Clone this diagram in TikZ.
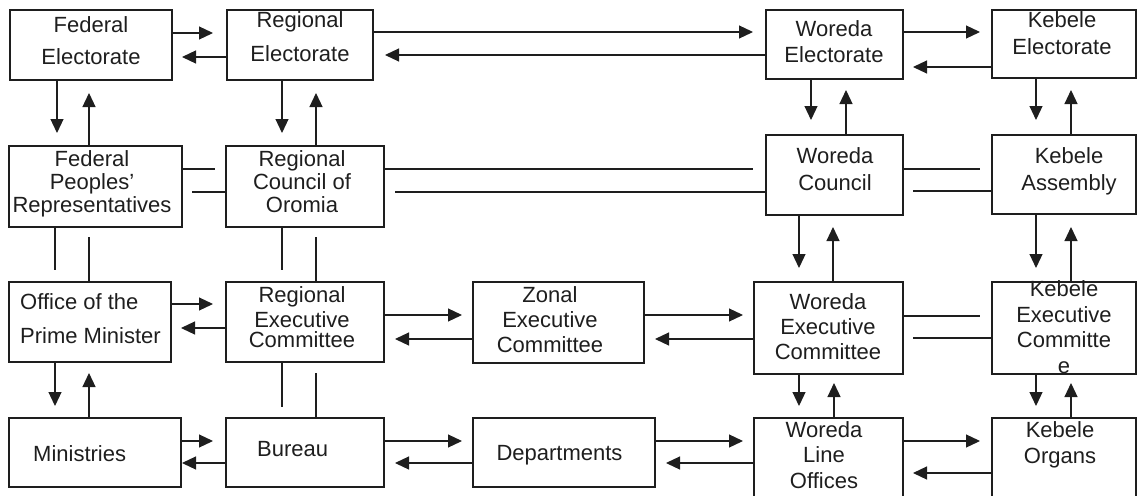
\documentclass[tikz,border=0pt]{standalone}
\usepackage{fontspec}
\setmainfont{Liberation Sans}
\usetikzlibrary{arrows.meta}
\definecolor{ink}{HTML}{1E1E1E}
\begin{document}
\begin{tikzpicture}[x=1pt, y=-1pt,
  box/.style={draw=ink, line width=1.3pt, inner sep=0pt, outer sep=0pt},
  arr/.style={draw=ink, line width=1.2pt, -{Triangle[length=14pt,width=13pt]}},
  link/.style={draw=ink, line width=1.2pt},
  lbl/.style={font=\fontsize{22}{#1}\selectfont, align=center, anchor=base,
              inner sep=0pt, text=ink},
  lbl/.default=25]
\path[use as bounding box, clip] (0,0) rectangle (1137,495);

% ---------- boxes ----------
% federal / regional / woreda / kebele electorates
\node[box, minimum width=162pt, minimum height=70pt] (fe)  at (91,45) {};
\node[box, minimum width=146pt, minimum height=70pt] (re)  at (300,45) {};
\node[box, minimum width=137pt, minimum height=69pt] (we)  at (834.5,44.5) {};
\node[box, minimum width=144pt, minimum height=68pt] (ke)  at (1064,44) {};
% councils
\node[box, minimum width=173pt, minimum height=81pt] (fpr) at (95.5,186.5) {};
\node[box, minimum width=158pt, minimum height=81pt] (rco) at (305,186.5) {};
\node[box, minimum width=137pt, minimum height=80pt] (wc)  at (834.5,175) {};
\node[box, minimum width=144pt, minimum height=79pt] (ka)  at (1064,174.5) {};
% executives
\node[box, minimum width=162pt, minimum height=80pt] (opm) at (90,322) {};
\node[box, minimum width=158pt, minimum height=80pt] (rec) at (305,322) {};
\node[box, minimum width=171pt, minimum height=81pt] (zec) at (558.5,322.5) {};
\node[box, minimum width=149pt, minimum height=92pt] (wec) at (828.5,328) {};
\node[box, minimum width=144pt, minimum height=92pt] (kec) at (1064,328) {};
% line organisations
\node[box, minimum width=172pt, minimum height=69pt] (min) at (95,452.5) {};
\node[box, minimum width=158pt, minimum height=69pt] (bur) at (305,452.5) {};
\node[box, minimum width=182pt, minimum height=69pt] (dep) at (564,452.5) {};
\node[box, minimum width=149pt, minimum height=90pt] (wlo) at (828.5,463) {};
\node[box, minimum width=144pt, minimum height=90pt] (ko)  at (1064,463) {};

% ---------- labels (placed by the baseline of their last line) ----------
\node[lbl=32] (fe-t)  at (91,64)    {Federal\\Electorate};
\node[lbl=34] (re-t)  at (300,62)   {Regional\\Electorate};
\node[lbl=26] (we-t)  at (834,63)   {Woreda\\Electorate};
\node[lbl=27] (ke-t)  at (1062,55)  {Kebele\\Electorate};
\node[lbl=23] (fpr-t) at (92,212)   {Federal\\Peoples'\\Representatives};
\node[lbl=23] (rco-t) at (302,212)  {Regional\\Council of\\Oromia};
\node[lbl=27] (wc-t)  at (835,190)  {Woreda\\Council};
\node[lbl=27] (ka-t)  at (1069,190) {Kebele\\Assembly};
\node[lbl=34, align=left, anchor=base west] (opm-t) at (20,343) {Office of the\\Prime Minister};
\node[lbl=25] (rec-t) at (302,347)  {Regional\\Executive\\[-5pt]Committee};
\node[lbl=25] (zec-t) at (550,352)  {Zonal\\Executive\\Committee};
\node[lbl=25] (wec-t) at (828,359)  {Woreda\\Executive\\Committee};
\node[lbl=25.5] (kec-t) at (1064,373) {Kebele\\Executive\\Committe\\e};
\node[lbl, anchor=base west] (min-t) at (33,461)  {Ministries};
\node[lbl, anchor=base west] (bur-t) at (257,456) {Bureau};
\node[lbl] (dep-t) at (559.5,460) {Departments};
\node[lbl=25.5] (wlo-t) at (824,488) {Woreda\\Line\\Offices};
\node[lbl=26] (ko-t)  at (1060,463) {Kebele\\Organs};

% ---------- horizontal connectors ----------
% electorates
\draw[arr, shorten >=14pt] (fe.east |- 0,33) -- (re.west |- 0,33);
\draw[arr, shorten >=10pt] (re.west |- 0,57) -- (fe.east |- 0,57);
\draw[arr, shorten >=13pt] (re.east |- 0,32) -- (we.west |- 0,32);
\draw[arr, shorten >=12pt] (we.west |- 0,55) -- (re.east |- 0,55);
\draw[arr, shorten >=12pt] (we.east |- 0,32) -- (ke.west |- 0,32);
\draw[arr, shorten >=10pt] (ke.west |- 0,67) -- (we.east |- 0,67);
% councils
\draw[link, shorten >=11pt] (fpr.east |- 0,169) -- (rco.west |- 0,169);
\draw[link, shorten >=10pt] (rco.west |- 0,192) -- (fpr.east |- 0,192);
\draw[link, shorten >=13pt] (rco.east |- 0,169) -- (wc.west |- 0,169);
\draw[link, shorten >=11pt] (wc.west |- 0,192) -- (rco.east |- 0,192);
\draw[link, shorten >=12pt] (wc.east |- 0,169) -- (ka.west |- 0,169);
\draw[link, shorten >=10pt] (ka.west |- 0,191) -- (wc.east |- 0,191);
% executives
\draw[arr, shorten >=13pt] (opm.east |- 0,304) -- (rec.west |- 0,304);
\draw[arr, shorten >=10pt] (rec.west |- 0,328) -- (opm.east |- 0,328);
\draw[arr, shorten >=11pt] (rec.east |- 0,315) -- (zec.west |- 0,315);
\draw[arr, shorten >=11pt] (zec.west |- 0,339) -- (rec.east |- 0,339);
\draw[arr, shorten >=11pt] (zec.east |- 0,315) -- (wec.west |- 0,315);
\draw[arr, shorten >=11pt] (wec.west |- 0,339) -- (zec.east |- 0,339);
\draw[link, shorten >=12pt] (wec.east |- 0,316) -- (kec.west |- 0,316);
\draw[link, shorten >=10pt] (kec.west |- 0,338) -- (wec.east |- 0,338);
% line organisations
\draw[arr, shorten >=13pt] (min.east |- 0,441) -- (bur.west |- 0,441);
\draw[arr, shorten >=1pt]  (bur.west |- 0,463) -- (min.east |- 0,463);
\draw[arr, shorten >=11pt] (bur.east |- 0,441) -- (dep.west |- 0,441);
\draw[arr, shorten >=11pt] (dep.west |- 0,463) -- (bur.east |- 0,463);
\draw[arr, shorten >=11pt] (dep.east |- 0,441) -- (wlo.west |- 0,441);
\draw[arr, shorten >=11pt] (wlo.west |- 0,463) -- (dep.east |- 0,463);
\draw[arr, shorten >=12pt] (wlo.east |- 0,441) -- (ko.west |- 0,441);
\draw[arr, shorten >=10pt] (ko.west |- 0,473) -- (wlo.east |- 0,473);

% ---------- vertical connectors ----------
% electorates <-> councils
\draw[arr, shorten >=13pt] (fe.south -| 57,0) -- (fpr.north -| 57,0);
\draw[arr, shorten >=13pt] (fpr.north -| 89,0) -- (fe.south -| 89,0);
\draw[arr, shorten >=13pt] (re.south -| 282,0) -- (rco.north -| 282,0);
\draw[arr, shorten >=13pt] (rco.north -| 316,0) -- (re.south -| 316,0);
\draw[arr, shorten >=15pt] (we.south -| 811,0) -- (wc.north -| 811,0);
\draw[arr, shorten >=11pt] (wc.north -| 846,0) -- (we.south -| 846,0);
\draw[arr, shorten >=15pt] (ke.south -| 1036,0) -- (ka.north -| 1036,0);
\draw[arr, shorten >=12pt] (ka.north -| 1071,0) -- (ke.south -| 1071,0);
% councils <-> executives
\draw[link, shorten >=12pt] (fpr.south -| 55,0) -- (opm.north -| 55,0);
\draw[link, shorten >=10pt] (opm.north -| 89,0) -- (fpr.south -| 89,0);
\draw[link, shorten >=12pt] (rco.south -| 282,0) -- (rec.north -| 282,0);
\draw[link, shorten >=10pt] (rec.north -| 316,0) -- (rco.south -| 316,0);
\draw[arr, shorten >=14pt] (wc.south -| 799,0) -- (wec.north -| 799,0);
\draw[arr, shorten >=12pt] (wec.north -| 833,0) -- (wc.south -| 833,0);
\draw[arr, shorten >=14pt] (ka.south -| 1036,0) -- (kec.north -| 1036,0);
\draw[arr, shorten >=13pt] (kec.north -| 1071,0) -- (ka.south -| 1071,0);
% executives <-> line organisations
\draw[arr, shorten >=12pt] (opm.south -| 55,0) -- (min.north -| 55,0);
\draw[arr, shorten >=11pt] (min.north -| 89,0) -- (opm.south -| 89,0);
\draw[link, shorten >=11pt] (rec.south -| 282,0) -- (bur.north -| 282,0);
\draw[link, shorten >=11pt] (bur.north -| 316,0) -- (rec.south -| 316,0);
\draw[arr, shorten >=12pt] (wec.south -| 799,0) -- (wlo.north -| 799,0);
\draw[arr, shorten >=9pt]  (wlo.north -| 834,0) -- (wec.south -| 834,0);
\draw[arr, shorten >=12pt] (kec.south -| 1036,0) -- (ko.north -| 1036,0);
\draw[arr, shorten >=9pt]  (ko.north -| 1071,0) -- (kec.south -| 1071,0);
\end{tikzpicture}
\end{document}
